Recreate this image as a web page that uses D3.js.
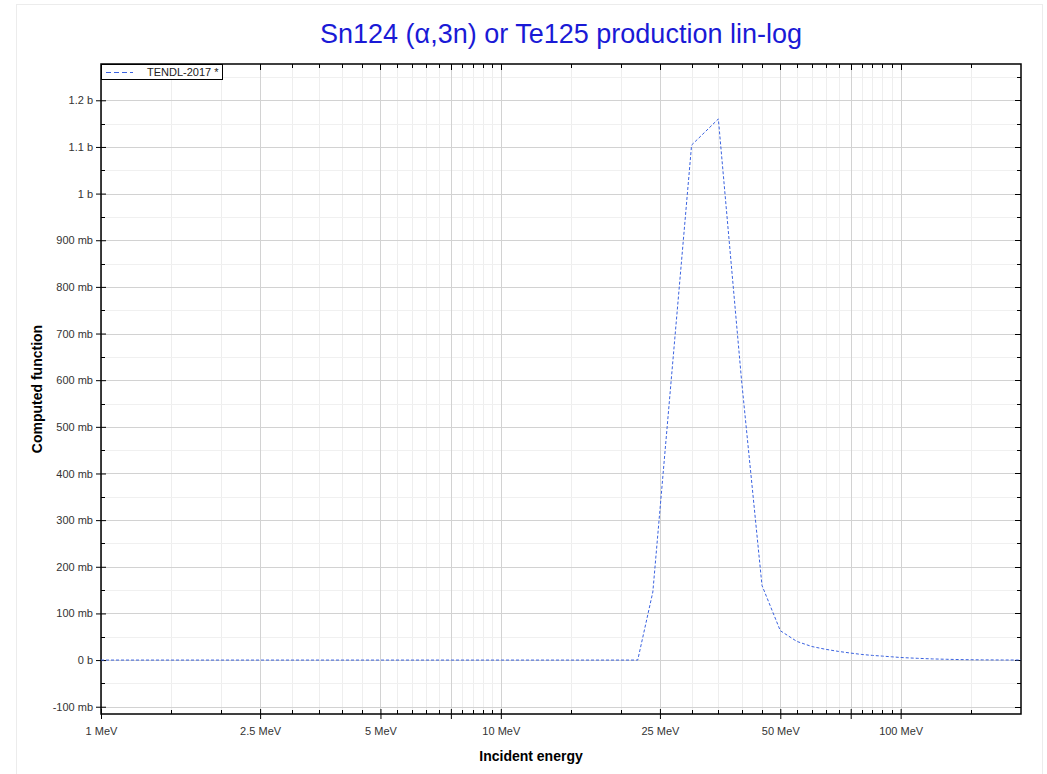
<!DOCTYPE html>
<html><head><meta charset="utf-8">
<script src="https://cdn.jsdelivr.net/npm/d3@7"></script>
<style>
body{margin:0;background:#fff;font-family:"Liberation Sans",Arial,sans-serif;}
</style></head>
<body><svg id="c" width="1047" height="774"></svg>
<script>
const titleText = "Sn124 (\u03b1,3n) or Te125 production lin-log";
const xLabel = "Incident energy";
const yLabel = "Computed function";
const seriesName = "TENDL-2017 *";
const energyMeV = [1, 22, 24, 30, 35, 40, 45, 50, 55, 60, 65, 70, 75, 80, 85, 90, 95, 100, 110, 120, 130, 140, 150, 160, 180, 200];
const valueMb =   [0, 0, 146, 1104, 1160, 600, 160, 63, 40, 29, 23, 18.5, 15, 12, 10, 8.5, 7, 5.5, 3.8, 2.5, 1.7, 1.1, 0.7, 0.45, 0.2, 0.1];
const xMajorTicks = [1, 2.5, 5, 7.5, 10, 25, 50, 75, 100];
const xLabelTicks = [1, 2.5, 5, 10, 25, 50, 100];
const xMinorTicks = [1.5, 2, 3, 3.5, 4, 4.5, 5.5, 6, 6.5, 7, 8, 8.5, 9, 9.5, 15, 20, 30, 35, 40, 45, 55, 60, 65, 70, 80, 85, 90, 95, 150];
const yMajorTicks = [-100, 0, 100, 200, 300, 400, 500, 600, 700, 800, 900, 1000, 1100, 1200];
const yMinorTicks = [-50, 50, 150, 250, 350, 450, 550, 650, 750, 850, 950, 1050, 1150, 1250];

const L = 101, R = 1021, T = 64, B = 714;
const svg = d3.select("#c");
const x = d3.scaleLog().domain([1, 200]).range([L, R]);
const y = d3.scaleLinear().domain([-115.6, 1277.8]).range([B, T]);

function fmtY(v){ if (v === 0) return "0 b"; if (Math.abs(v) >= 1000) return (v/1000) + " b"; return v + " mb"; }
function fmtX(v){ return v + " MeV"; }

// outer faint border
svg.append("rect").attr("x",16.5).attr("y",4.5).attr("width",1026).attr("height",780)
  .attr("fill","none").attr("stroke","#ececec");

// grid
const g = svg.append("g");
g.selectAll(".xm").data(xMinorTicks).join("line")
  .attr("x1",d=>Math.round(x(d))+0.5).attr("x2",d=>Math.round(x(d))+0.5).attr("y1",T).attr("y2",B)
  .attr("stroke","#eeeeee");
g.selectAll(".ym").data(yMinorTicks).join("line")
  .attr("y1",d=>Math.round(y(d))+0.5).attr("y2",d=>Math.round(y(d))+0.5).attr("x1",L).attr("x2",R)
  .attr("stroke","#f0f0f0");
g.selectAll(".xM").data(xMajorTicks).join("line")
  .attr("x1",d=>Math.round(x(d))+0.5).attr("x2",d=>Math.round(x(d))+0.5).attr("y1",T).attr("y2",B)
  .attr("stroke","#d2d2d2");
g.selectAll(".yM").data(yMajorTicks).join("line")
  .attr("y1",d=>Math.round(y(d))+0.5).attr("y2",d=>Math.round(y(d))+0.5).attr("x1",L).attr("x2",R)
  .attr("stroke","#d2d2d2");

// axes via d3
const axB = d3.axisBottom(x).tickValues(xMajorTicks).tickSize(5).tickSizeOuter(0)
  .tickFormat(d => xLabelTicks.includes(d) ? fmtX(d) : "");
const axBg = svg.append("g").attr("transform",`translate(0,${B})`).call(axB);
const axL = d3.axisLeft(y).tickValues(yMajorTicks).tickSize(5).tickSizeOuter(0).tickFormat(fmtY);
const axLg = svg.append("g").attr("transform",`translate(${L},0)`).call(axL);
[axBg, axLg].forEach(a => {
  a.select(".domain").remove();
  a.selectAll(".tick line").attr("stroke","#000");
  a.selectAll(".tick text").attr("fill","#333").style("font-size","11px").style("font-family","'Liberation Sans',Arial,sans-serif");
});
axBg.selectAll(".tick text").attr("dy","1.2em");
axBg.selectAll(".tick line").attr("y1",-5);
axLg.selectAll(".tick line").attr("x1",5);
axLg.selectAll(".tick text").attr("x",-8);

// inward minor ticks
svg.append("g").selectAll("line").data(xMinorTicks).join("line")
  .attr("x1",d=>Math.round(x(d))+0.5).attr("x2",d=>Math.round(x(d))+0.5).attr("y1",B).attr("y2",B-4).attr("stroke","#000");
svg.append("g").selectAll("line").data(xMinorTicks.concat(xMajorTicks)).join("line")
  .attr("x1",d=>Math.round(x(d))+0.5).attr("x2",d=>Math.round(x(d))+0.5).attr("y1",T).attr("y2",d=>xMajorTicks.includes(d)?T+6:T+4).attr("stroke","#000");
svg.append("g").selectAll("line").data(yMinorTicks.filter(v=>y(v)>T)).join("line")
  .attr("y1",d=>Math.round(y(d))+0.5).attr("y2",d=>Math.round(y(d))+0.5).attr("x1",L).attr("x2",L+4).attr("stroke","#000");
svg.append("g").selectAll("line").data(yMinorTicks.filter(v=>y(v)>T).concat(yMajorTicks)).join("line")
  .attr("y1",d=>Math.round(y(d))+0.5).attr("y2",d=>Math.round(y(d))+0.5).attr("x1",R).attr("x2",d=>yMajorTicks.includes(d)?R-6:R-4).attr("stroke","#000");

// frame
svg.append("rect").attr("x",L).attr("y",T).attr("width",R-L).attr("height",B-T)
  .attr("fill","none").attr("stroke","#000").attr("stroke-width",1.5);

// data line
const data = energyMeV.map((e,i)=>({e, v: valueMb[i]}));
svg.append("path").datum(data)
  .attr("d", d3.line().x(d=>x(d.e)).y(d=>y(d.v)))
  .attr("fill","none").attr("stroke","#3a62e0").attr("stroke-width",1).attr("stroke-dasharray","3,2");

// legend
svg.append("rect").attr("x",101.5).attr("y",64.5).attr("width",121).attr("height",15)
  .attr("fill","#fff").attr("stroke","#000").attr("stroke-width",1);
svg.append("line").attr("x1",106).attr("x2",133).attr("y1",72.5).attr("y2",72.5)
  .attr("stroke","#3a62e0").attr("stroke-width",1.2).attr("stroke-dasharray","5,3");
svg.append("text").attr("x",147).attr("y",76).text(seriesName)
  .attr("font-size","11px").attr("fill","#222");

// title & labels
svg.append("text").attr("x",(L+R)/2).attr("y",43).attr("text-anchor","middle")
  .attr("font-size","27px").attr("fill","#1a1ad6").text(titleText);
svg.append("text").attr("x",531).attr("y",761).attr("text-anchor","middle")
  .attr("font-size","14px").attr("font-weight","bold").attr("fill","#000").text(xLabel);
svg.append("text").attr("transform",`translate(42,${(T+B)/2}) rotate(-90)`).attr("text-anchor","middle")
  .attr("font-size","14px").attr("font-weight","bold").attr("fill","#000").text(yLabel);
</script></body></html>
